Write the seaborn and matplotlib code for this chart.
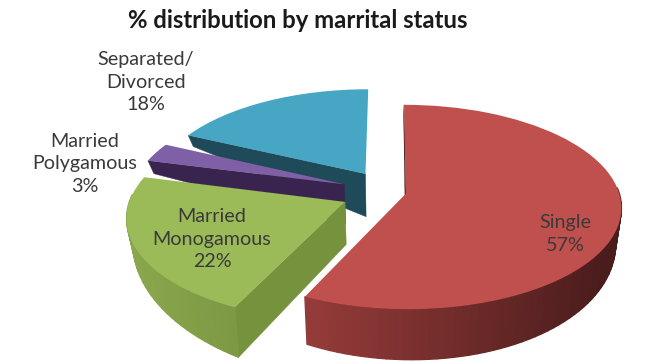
import numpy as np
import matplotlib
matplotlib.use('Agg')
import matplotlib.pyplot as plt
import seaborn as sns
from matplotlib.transforms import Transform

# data
labels = ['Single', 'Married\nMonogamous', 'Married\nPolygamous', 'Separated/\nDivorced']
values = [57, 22, 3, 18]
explode = [0.076, 0.23, 0.23, 0.22]

# colours of top face, and side shading (left end, right end)
top_colors = sns.color_palette(['#c0504d', '#9bbb59', '#7f60a6', '#46a6c3'])
side_left = ['#943b39', '#8ba84e', '#39244f', '#1e4a5a']
side_right = ['#4a1c1c', '#6f8b3a', '#39244f', '#1e4a5a']
radial_colors = ['#3a1514', '#76923c', '#39244f', '#1e4a5a']

# depth of the slice in pixels: d0 + a*x + b*y
depth_coef = [(30, 2.5, -20), (45, 20, -17.6), (45, 27, 0), (47, 35, 0)]

# where each label goes
label_pos = [(565, 234), (212, 239), (85, 164), (146, 82)]

sns.set_theme(style='white')
plt.rcParams['font.family'] = ['Lato', 'DejaVu Sans']

CX, CY, A, B, P = 390, 192, 213, 100, 0.13


def project(xy):
    xy = np.asarray(xy, dtype=float)
    w = 1 + P * xy[..., 1]
    return np.stack([CX + A * xy[..., 0] / w, CY - B * xy[..., 1] / w], axis=-1)


class Tilt(Transform):
    input_dims = 2
    output_dims = 2
    is_separable = False
    has_inverse = False

    def transform_non_affine(self, values):
        return project(values)


def lower(xy, coef):
    # same point on the bottom of the slab
    p = project(xy)
    d = coef[0] + coef[1] * xy[..., 0] + coef[2] * xy[..., 1]
    return np.stack([p[..., 0] - 0.025 * (p[..., 0] - CX), p[..., 1] + d], axis=-1)


fig = plt.figure(figsize=(6.45, 3.62), dpi=100)
ax = fig.add_axes([0, 0, 1, 1])
wedges, _ = ax.pie(values, explode=explode, colors=top_colors, startangle=90,
                   counterclock=False, radius=1, wedgeprops={'linewidth': 0})
ax.set_aspect('auto')
ax.set_xlim(0, 645)
ax.set_ylim(362, 0)

tilt = Tilt()
z = 10
# back slices first: blue, purple, green, red
for i in [3, 2, 1, 0]:
    w = wedges[i]
    c0 = np.array(w.center)
    coef = depth_coef[i]
    t1, t2 = np.deg2rad(w.theta1), np.deg2rad(w.theta2)
    tm = (t1 + t2) / 2
    apex_p = project(c0)
    mid_p = project(c0 + 0.5 * np.array([np.cos(tm), np.sin(tm)])) - apex_p

    # flat cut faces, only where they face the viewer
    for t in [t1, t2]:
        rim = c0 + np.array([np.cos(t), np.sin(t)])
        e = project(rim) - apex_p
        facing = np.sign(e[0] * mid_p[1] - e[1] * mid_p[0]) != np.sign(e[0])
        if facing and (abs(e[0]) > 5 or i == 0):
            quad = [project(c0), project(rim), lower(rim, coef), lower(c0, coef)]
            ax.fill(*zip(*quad), color=radial_colors[i], lw=0.3, zorder=z)
            z += 1

    # outer wall, split up so it can be shaded
    ang = np.linspace(t1, t2, max(int(np.degrees(t2 - t1) / 2), 2) + 1)
    left = np.array(matplotlib.colors.to_rgb(side_left[i]))
    right = np.array(matplotlib.colors.to_rgb(side_right[i]))
    for a0, a1 in zip(ang[:-1], ang[1:]):
        # back of the rim can't be seen
        if np.sin(a0) > 0.05 and np.sin(a1) > 0.05:
            continue
        r0 = c0 + np.array([np.cos(a0), np.sin(a0)])
        r1 = c0 + np.array([np.cos(a1), np.sin(a1)])
        quad = [project(r0), project(r1), lower(r1, coef), lower(r0, coef)]
        f = np.clip((project(r0)[0] - 308) / 300, 0, 1) if i == 0 else np.clip((project(r0)[0] - 125) / 200, 0, 1)
        ax.fill(*zip(*quad), color=tuple(left + (right - left) * f), lw=1.0, zorder=z)
        z += 1

    w.set_transform(tilt + ax.transData)
    w.set_clip_on(False)
    w.set_zorder(z)
    z += 1

for lab, val, pos in zip(labels, values, label_pos):
    ax.text(pos[0], pos[1], f'{lab}\n{val}%', ha='center', va='center', fontsize=14.2,
            color='#3a3a3a', linespacing=1.42, zorder=z)

ax.text(298, 20, '% distribution by marrital status', ha='center', va='center',
        fontsize=17.2, fontweight='bold', color='#1a1a1a', zorder=z)

fig.savefig('out.png', dpi=100)
